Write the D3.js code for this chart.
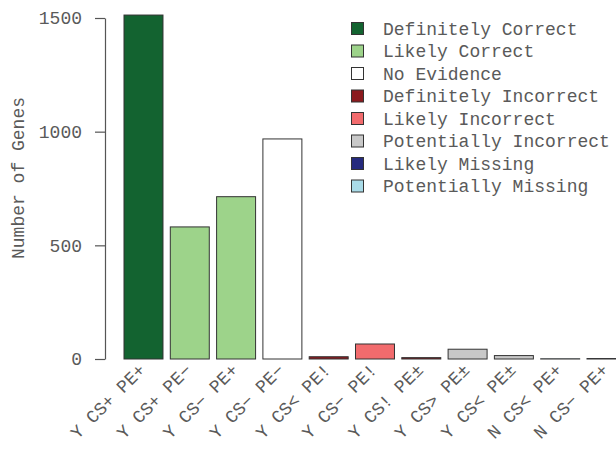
<!DOCTYPE html>
<html>
<head>
<meta charset="utf-8">
<script src="https://cdn.jsdelivr.net/npm/d3@7"></script>
<style>
  body { margin: 0; background: #fff; }
  text { font-family: "Liberation Mono", "DejaVu Sans Mono", monospace; fill: #5a5a5a; }
</style>
</head>
<body>
<div id="chart"></div>
<script>
// Data
const categories = ["Y CS+ PE+", "Y CS+ PE\u2212", "Y CS\u2212 PE+", "Y CS\u2212 PE\u2212", "Y CS< PE!",
    "Y CS\u2212 PE!", "Y CS! PE\u00b1", "Y CS> PE\u00b1", "Y CS< PE\u00b1", "N CS< PE+", "N CS\u2212 PE+"];
const geneCounts = [1513, 581, 714, 968, 10, 66, 6, 43, 15, 1, 2];
const barClasses = ["Definitely Correct", "Likely Correct", "Likely Correct", "No Evidence",
    "Definitely Incorrect", "Likely Incorrect", "Definitely Incorrect", "Potentially Incorrect",
    "Potentially Incorrect", "Potentially Missing", "Likely Missing"];
const legendLabels = ["Definitely Correct", "Likely Correct", "No Evidence", "Definitely Incorrect",
    "Likely Incorrect", "Potentially Incorrect", "Likely Missing", "Potentially Missing"];
const legendColors = ["#136330", "#9dd38a", "#ffffff", "#8b1a1e", "#f26b6d", "#c8c8c8", "#252a7d", "#a9dbe8"];
const yTicks = [0, 500, 1000, 1500];

function BarChart() {
    const width = 616, height = 450;
    const color = d3.scaleOrdinal().domain(legendLabels).range(legendColors);

    const x = d3.scaleBand()
        .domain(categories)
        .range([120.34, 629.64])
        .paddingInner(0.158)
        .paddingOuter(0.079);
    const y = d3.scaleLinear().domain([0, 1500]).range([359, 18]);

    const svg = d3.select("#chart").append("svg")
        .attr("width", width)
        .attr("height", height);

    // y axis (trimmed spine, ticks outward)
    const yAxis = svg.append("g")
        .attr("transform", "translate(105,0)")
        .call(d3.axisLeft(y).tickValues(yTicks).tickFormat(d3.format("d"))
            .tickSize(10).tickPadding(13).tickSizeOuter(0));
    yAxis.select(".domain").attr("stroke", "#555").attr("stroke-width", 1.2);
    yAxis.selectAll(".tick line").attr("stroke", "#555").attr("stroke-width", 1.2);
    yAxis.selectAll(".tick text")
        .style("font-size", "18px")
        .style("font-family", "Liberation Mono, monospace")
        .attr("fill", "#5a5a5a");

    svg.append("text")
        .attr("transform", "translate(24,178) rotate(-90)")
        .attr("text-anchor", "middle")
        .style("font-size", "18px")
        .text("Number of Genes");

    // bars
    const data = categories.map((c, i) => ({ cat: c, value: geneCounts[i], cls: barClasses[i] }));
    svg.append("g").selectAll("rect")
        .data(data)
        .join("rect")
        .attr("x", d => x(d.cat))
        .attr("y", d => y(d.value))
        .attr("width", x.bandwidth())
        .attr("height", d => y(0) - y(d.value))
        .attr("fill", d => color(d.cls))
        .attr("stroke", "#333")
        .attr("stroke-width", 1);

    // x tick labels, rotated
    svg.append("g").selectAll("text")
        .data(categories)
        .join("text")
        .attr("transform", d => `translate(${x(d) + x.bandwidth() / 2 + 3},371) rotate(-45)`)
        .attr("text-anchor", "end")
        .style("font-size", "18px")
        .text(d => d);

    // legend
    const legend = svg.append("g").selectAll("g")
        .data(legendLabels)
        .join("g")
        .attr("transform", (d, i) => `translate(351,${28.5 + i * 22.5})`);
    legend.append("rect")
        .attr("x", 0.5)
        .attr("y", -6)
        .attr("width", 12)
        .attr("height", 12)
        .attr("fill", d => color(d))
        .attr("stroke", "#333");
    legend.append("text")
        .attr("x", 32)
        .attr("y", 6)
        .style("font-size", "18px")
        .text(d => d);
}

BarChart();
</script>
</body>
</html>
